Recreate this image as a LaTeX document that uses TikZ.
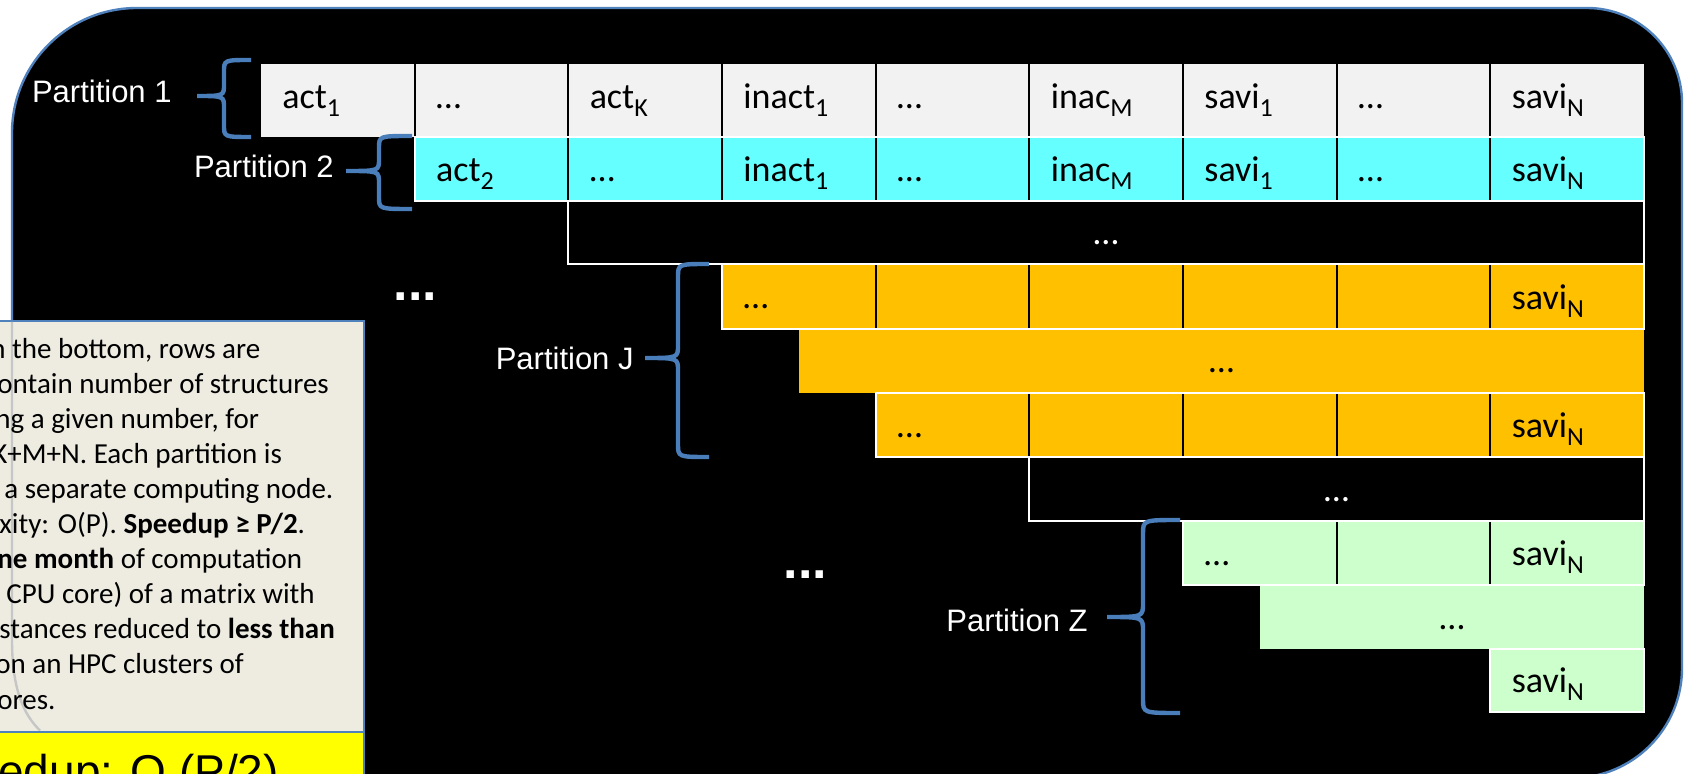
\documentclass[tikz,border=0pt]{standalone}
\usepackage{fontspec}
\setmainfont{Carlito}
\newfontfamily\arialf{Liberation Sans}
\definecolor{bblue}{HTML}{4F81BD}
\definecolor{braceblue}{HTML}{4A7EBB}
\definecolor{rowgray}{HTML}{F2F2F2}
\definecolor{rowcyan}{HTML}{66FFFF}
\definecolor{roworange}{HTML}{FFC000}
\definecolor{rowgreen}{HTML}{CCFFCC}
\definecolor{notebg}{HTML}{EEECE1}
\definecolor{noteyellow}{HTML}{FFFF00}
\newcommand{\subx}[1]{\raisebox{-4pt}{\fontsize{13}{14}\selectfont #1}}
% #1 end x, #2 top y, #3 bottom y, #4 spine x, #5 tip x, #6 tip y, #7 corner size
\newcommand{\mybrace}[7]{%
  \draw[bracestyle] (#1,#2) .. controls (#4,#2) .. (#4,#2+#7) -- (#4,#6-#7)
    .. controls (#4,#6) .. (#5,#6) .. controls (#4,#6) .. (#4,#6+#7)
    -- (#4,#3-#7) .. controls (#4,#3) .. (#1,#3);}
\tikzset{
  cellfont/.style={font=\fontsize{18}{20}\selectfont},
  ct/.style={cellfont, anchor=base west, inner sep=0pt, text=black},
  cc/.style={cellfont, anchor=base, inner sep=0pt, text=black},
  ccw/.style={cc, text=white},
  plabel/.style={font=\arialf\fontsize{15.5}{17}\selectfont, text=white, anchor=base east, inner sep=0pt},
  bigdots/.style={font=\arialf\bfseries\fontsize{26}{28}\selectfont, text=white, anchor=base west, inner sep=0pt},
  notetxt/.style={font=\fontsize{14.5}{16}\selectfont, anchor=base west, inner sep=0pt, text=black},
  rowline/.style={draw=white, line width=1pt},
  sep/.style={draw=black, line width=1pt},
  bracestyle/.style={draw=braceblue, line width=2.2pt},
  outer/.style={fill=black, draw=bblue, line width=1.2pt},
  notebox/.style={fill=notebg, draw=bblue, line width=1pt},
  yellowbox/.style={fill=noteyellow, draw=bblue, line width=1pt},
}
\begin{document}
\begin{tikzpicture}[x=0.5pt,y=-0.5pt]
\useasboundingbox (0,0) rectangle (1684,774);
\clip (0,0) rectangle (1684,774);
\fill[white] (0,0) rectangle (1684,774);

% outer rounded black panel
\path[outer] (12,800) -- (12,133) .. controls (12,64) and (68,8) .. (137,8)
  -- (1587,8) .. controls (1639.5,8) and (1682,50.5) .. (1682,103)
  -- (1682,668) .. controls (1682,728.7) and (1632.7,778) .. (1572,778)
  -- (12,778) -- cycle;

% ---- row fills
\fill[rowgray]   (261,64)    rectangle (1644,137);
\fill[rowcyan]   (414.67,137) rectangle (1644,201);
\fill[roworange] (722,264.5)  rectangle (1644,329);
\fill[roworange] (799,329)    rectangle (1644,393);
\fill[roworange] (875.7,393)  rectangle (1644,457);
\fill[rowgreen]  (1183,521)   rectangle (1644,585);
\fill[rowgreen]  (1260,585)   rectangle (1644,649);
\fill[rowgreen]  (1490.4,649) rectangle (1644,712);

% ---- column separators
\foreach \k in {1,...,8} \draw[sep] ({261+153.67*\k},64) -- ({261+153.67*\k},137);
\foreach \k in {2,...,8} \draw[sep] ({261+153.67*\k},137) -- ({261+153.67*\k},201);
\foreach \k in {4,...,8} \draw[sep] ({261+153.67*\k},264.5) -- ({261+153.67*\k},329);
\foreach \k in {5,...,8} \draw[sep] ({261+153.67*\k},393) -- ({261+153.67*\k},457);
\foreach \k in {7,8} \draw[sep] ({261+153.67*\k},521) -- ({261+153.67*\k},585);

% ---- white row outlines
\draw[rowline] (414.67,137) rectangle (1644,201);
\draw[rowline] (568.3,201)  rectangle (1644,264.5);
\draw[rowline] (722,264.5)  rectangle (1644,329);
\draw[rowline] (875.7,393)  rectangle (1644,457);
\draw[rowline] (1029.4,457) rectangle (1644,521);
\draw[rowline] (1183,521)   rectangle (1644,585);
\draw[rowline] (1490.4,649) rectangle (1644,712);

% ---- cell texts
\foreach \t [count=\i from 0] in {act\subx{1}, …, act\subx{K}, inact\subx{1}, …, inac\subx{M}, savi\subx{1}, …, savi\subx{N}}
  \node[ct] (ra\i) at ({261+153.67*\i+21},109) {\t};
\foreach \t [count=\i from 0] in {act\subx{2}, …, inact\subx{1}, …, inac\subx{M}, savi\subx{1}, …, savi\subx{N}}
  \node[ct] (rb\i) at ({414.67+153.67*\i+21},181.5) {\t};
\node[ccw] (rc) at (1106,245) {…};
\node[ct] (rd0) at (743,309) {…};
\node[ct] (rd5) at (1511.4,309.5) {savi\subx{N}};
\node[cc] (re) at (1221.5,373) {…};
\node[ct] (rf0) at (896.7,437.5) {…};
\node[ct] (rf4) at (1511.4,437.5) {savi\subx{N}};
\node[ccw] (rg) at (1336.5,501) {…};
\node[ct] (rh0) at (1204,565) {…};
\node[ct] (rh2) at (1511.4,565) {savi\subx{N}};
\node[cc] (ri) at (1452,629) {…};
\node[ct] (rj) at (1511.4,692) {savi\subx{N}};

% ---- partition labels and braces
\node[plabel] (p1) at (172,103) {Partition 1};
\node[plabel] (p2) at (334,177.5) {Partition 2};
\node[plabel] (pj) at (634,370) {Partition J};
\node[plabel] (pz) at (1088,631) {Partition Z};
\mybrace{251}{60}{137}{224}{197}{96}{12}
\mybrace{412}{136}{209}{379}{346}{171}{12}
\mybrace{709}{264}{457}{678}{645}{358}{13}
\mybrace{1180}{520}{713}{1143}{1107}{617}{14}

% ---- big dots
\node[bigdots] (d1) at (393.4,301) {...};
\node[bigdots] (d2) at (783.5,578.5) {...};

% ---- note box (cut by the left edge)
\path[notebox] (-10,320.7) rectangle (364,731.5);
\draw[gray!45, line width=1.2pt] (12,322) -- (12,640) .. controls (12,690) and (24,715) .. (40,730.5);
\node[notetxt] (n1)  at (-10,358.3) {n the bottom, rows are};
\node[notetxt] (n2)  at (-3,393.4)  {ontain number of structures};
\node[notetxt] (n3)  at (-5,428.4)  {ng a given number, for};
\node[notetxt] (n4)  at (-8,463.5)  {K+M+N. Each partition is};
\node[notetxt] (n5)  at (4,498.6)   {a separate computing node.};
\node[notetxt] (n6)  at (-1,533.7)  {xity: O(P). \textbf{Speedup ≥ P/2}.};
\node[notetxt] (n7)  at (-3,568.7)  {\textbf{ne month} of computation};
\node[notetxt] (n8)  at (6,603.8)   {CPU core) of a matrix with};
\node[notetxt] (n9)  at (-1,638.9)  {stances reduced to \textbf{less than}};
\node[notetxt] (n10) at (-5,673.9)  {on an HPC clusters of};
\node[notetxt] (n11) at (-3,709)    {ores.};

\path[yellowbox] (-10,731.5) rectangle (364,800);
\node[anchor=base west, inner sep=0pt, font=\arialf\fontsize{23}{25}\selectfont] (sp) at (-2,787) {edup: O (P/2)};
\end{tikzpicture}
\end{document}
